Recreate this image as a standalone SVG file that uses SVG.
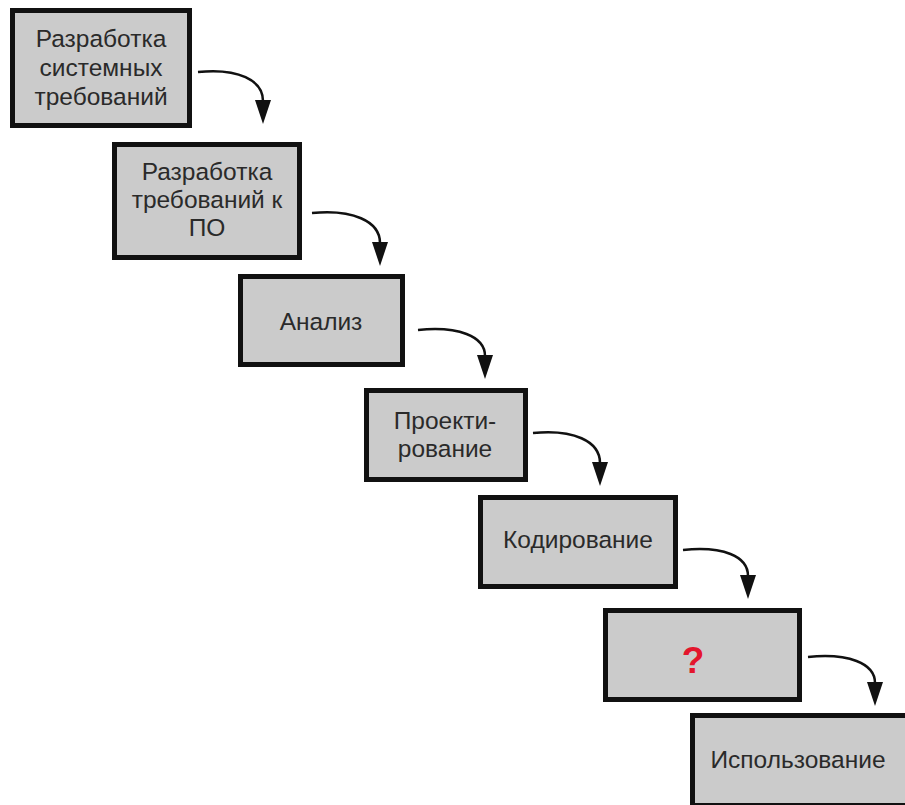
<svg xmlns="http://www.w3.org/2000/svg" width="905" height="805" viewBox="0 0 905 805">
<style>
.box{fill:#cbcbcb;stroke:#111;stroke-width:5}
.t{font-family:"Liberation Sans",Arial,sans-serif;font-size:24.5px;fill:#2a2a2a;text-anchor:middle}
.q{font-family:"Liberation Sans",Arial,sans-serif;font-size:37px;font-weight:bold;fill:#e3162d;text-anchor:middle}
.c{fill:none;stroke:#111;stroke-width:2.5}
</style>
<defs>
<marker id="ah" markerUnits="userSpaceOnUse" markerWidth="26" markerHeight="16" refX="1" refY="8" orient="auto">
<path d="M0,0 L24,8 L0,16 z" fill="#111"/>
</marker>
</defs>
<rect width="905" height="805" fill="#fff"/>
<g id="connectors">
<path class="c" marker-end="url(#ah)" d="M198,72 C238,68 263,80 263,101"/>
<path class="c" marker-end="url(#ah)" d="M312,213 C352,209 380,221 380,243"/>
<path class="c" marker-end="url(#ah)" d="M418,330 C458,326 485,336 485,356"/>
<path class="c" marker-end="url(#ah)" d="M533,433 C573,429 600,441 600,463"/>
<path class="c" marker-end="url(#ah)" d="M683,550 C723,546 748,556 748,576"/>
<path class="c" marker-end="url(#ah)" d="M808,657 C848,653 875,663 875,683"/>
</g>
<g id="n1">
<rect class="box" x="12.5" y="10.5" width="177" height="115"/>
<text class="t" x="101" y="47">Разработка</text>
<text class="t" x="101" y="76">системных</text>
<text class="t" x="101" y="105">требований</text>
</g>
<g id="n2">
<rect class="box" x="114.5" y="144.5" width="185" height="113"/>
<text class="t" x="207" y="180">Разработка</text>
<text class="t" x="207" y="208">требований к</text>
<text class="t" x="207" y="236">ПО</text>
</g>
<g id="n3">
<rect class="box" x="240.5" y="276.5" width="162" height="88"/>
<text class="t" x="321" y="330">Анализ</text>
</g>
<g id="n4">
<rect class="box" x="366.5" y="390.5" width="159" height="89"/>
<text class="t" x="445" y="429">Проекти-</text>
<text class="t" x="445" y="457">рование</text>
</g>
<g id="n5">
<rect class="box" x="480.5" y="497.5" width="195" height="89"/>
<text class="t" x="578" y="548">Кодирование</text>
</g>
<g id="n6">
<rect class="box" x="605.5" y="610.5" width="194" height="89"/>
<text class="q" x="693" y="673">?</text>
</g>
<g id="n7">
<rect class="box" x="692.5" y="715.5" width="230" height="90"/>
<text class="t" x="798" y="768">Использование</text>
</g>
</svg>
